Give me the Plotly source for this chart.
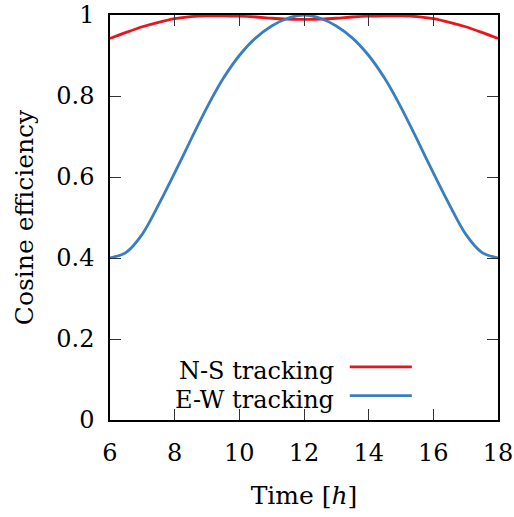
import plotly.graph_objects as go

time_h = [6, 6.5, 7, 7.5, 8, 8.5, 9, 9.5, 10, 10.5, 11, 11.5, 12,
          12.5, 13, 13.5, 14, 14.5, 15, 15.5, 16, 16.5, 17, 17.5, 18]
ns_tracking = [0.942, 0.957, 0.971, 0.982, 0.991, 0.996, 0.998, 0.998, 0.997, 0.995, 0.992, 0.990, 0.989,
               0.990, 0.992, 0.995, 0.997, 0.998, 0.998, 0.996, 0.991, 0.982, 0.971, 0.957, 0.942]
ew_tracking = [0.400, 0.414, 0.459, 0.531, 0.610, 0.692, 0.772, 0.843, 0.900, 0.943, 0.973, 0.992, 1.000,
               0.992, 0.973, 0.943, 0.900, 0.843, 0.772, 0.692, 0.610, 0.531, 0.459, 0.414, 0.400]
series_names = ["N-S tracking", "E-W tracking"]
series_colors = ["#e8161c", "#3a7fbd"]
x_ticks = [6, 8, 10, 12, 14, 16, 18]
y_ticks = [0, 0.2, 0.4, 0.6, 0.8, 1]
y_ticklabels = ["0", "0.2", "0.4", "0.6", "0.8", "1"]

FONT = "DejaVu Serif"

fig = go.Figure()
for name, ys, col in zip(series_names, [ns_tracking, ew_tracking], series_colors):
    fig.add_trace(go.Scatter(x=time_h, y=ys, mode="lines", name=name,
                             line=dict(color=col, width=2.8, shape="spline", smoothing=0.9),
                             showlegend=False, cliponaxis=True, hoverinfo="skip"))

axis_common = dict(showline=True, linecolor="black", linewidth=1.5, mirror="ticks",
                   ticks="inside", ticklen=11, tickwidth=1.2, tickcolor="#333",
                   showgrid=False, zeroline=False, automargin=False, ticklabeloverflow="allow",
                   tickfont=dict(family=FONT, size=24, color="black"))

fig.update_xaxes(range=[6, 18], tickvals=x_ticks, ticklabelstandoff=10,
                 title=dict(text="Time [<i>h</i>]", font=dict(family=FONT, size=25, color="black"), standoff=21),
                 **axis_common)
fig.update_yaxes(range=[0, 1], tickvals=y_ticks, ticktext=y_ticklabels, ticklabelstandoff=9,
                 title=dict(text="Cosine efficiency", font=dict(family=FONT, size=25, color="black"), standoff=16),
                 **axis_common)

# legend drawn gnuplot-style: text right-aligned, line sample to its right
leg_text_y = [0.122, 0.050]
leg_line_y = [0.131, 0.060]
for name, col, ty, ly in zip(series_names, series_colors, leg_text_y, leg_line_y):
    fig.add_annotation(x=0.582, y=ty, xref="paper", yref="paper", text=name, showarrow=False,
                       xanchor="right", yanchor="middle", font=dict(family=FONT, size=24, color="black"))
    fig.add_shape(type="line", xref="paper", yref="paper", x0=0.618, x1=0.778, y0=ly, y1=ly,
                  line=dict(color=col, width=2.8))

fig.update_layout(width=514, height=517, margin=dict(l=110, r=16, t=15, b=97),
                  paper_bgcolor="white", plot_bgcolor="white", hovermode=False,
                  font=dict(family=FONT, size=24, color="black"))

# remove the default page margin so the 514x517 figure fills the window without scrollbars
fig.write_html("out.html", config={"displayModeBar": False},
               post_script="document.body.style.margin='0';document.body.style.overflow='hidden';")
